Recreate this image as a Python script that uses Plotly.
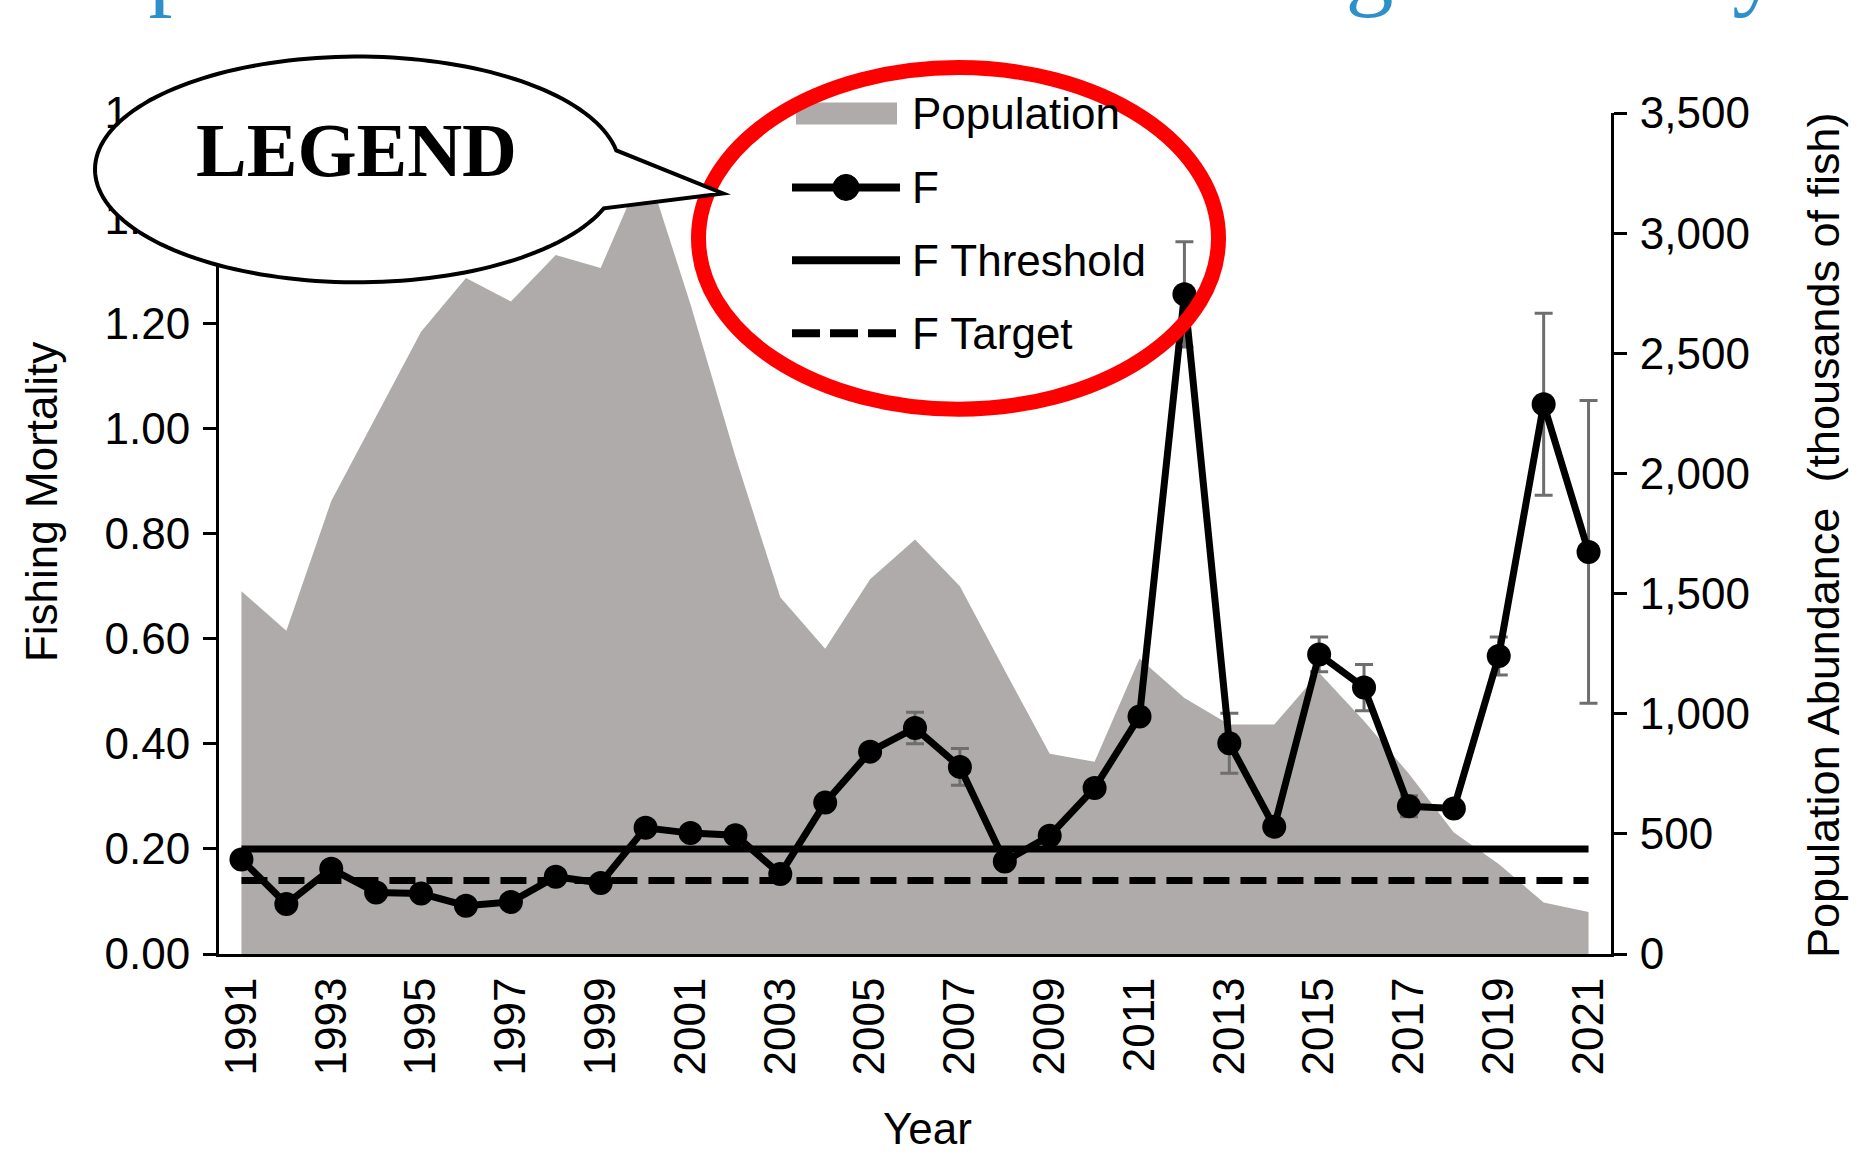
import numpy as np
import plotly.graph_objects as go

# ---------------- data ----------------
years = list(range(1991, 2022))
population = [1510, 1345, 1885, 2240, 2590, 2813, 2716, 2909, 2855, 3287,
              2704, 2070, 1485, 1270, 1560, 1725, 1530, 1180, 833, 800,
              1230, 1065, 955, 955, 1170, 970, 750, 506, 375, 214, 175]
f_values = [0.180, 0.095, 0.162, 0.117, 0.115, 0.092, 0.099, 0.147, 0.135, 0.240,
            0.230, 0.226, 0.152, 0.288, 0.385, 0.430, 0.356, 0.176, 0.225, 0.316,
            0.452, 1.255, 0.401, 0.242, 0.570, 0.507, 0.281, 0.277, 0.567, 1.046,
            0.765]
f_error = [0, 0, 0, 0, 0, 0, 0, 0, 0, 0,
           0, 0, 0, 0, 0.012, 0.030, 0.035, 0, 0, 0,
           0.010, 0.100, 0.057, 0, 0.033, 0.044, 0.020, 0.008, 0.036, 0.173,
           0.288]
f_threshold = 0.20
f_target = 0.14
line_years = [1991, 2021]
year_labels = [str(y) for y in range(1991, 2022, 2)]
f_ticks = [0.0, 0.2, 0.4, 0.6, 0.8, 1.0, 1.2, 1.4, 1.6]
pop_ticks = [0, 500, 1000, 1500, 2000, 2500, 3000, 3500]
legend_labels = ["Population", "F", "F Threshold", "F Target"]

# ---------------- geometry (page pixels) ----------------
W, H = 1857, 1152
L, R = 219, 1611
T, B = 112.5, 954.5
PW, PH = R - L, B - T


def px(x):
    return (x - L) / PW


def py(y):
    return (B - y) / PH


FONT = "Liberation Sans, Arial, sans-serif"
SIZE = 44
BLACK = "#000000"
GREY = "#AEABAA"

fig = go.Figure()

fig.add_trace(go.Scatter(
    x=years, y=population, name="Population", xaxis="x", yaxis="y",
    mode="lines", line=dict(width=0, color=GREY), fill="tozeroy",
    fillcolor=GREY, showlegend=False, hoverinfo="skip"))

fig.add_trace(go.Scatter(
    x=line_years, y=[f_threshold] * len(line_years), name="F Threshold",
    xaxis="x", yaxis="y2", mode="lines",
    line=dict(color=BLACK, width=7), showlegend=False))

fig.add_trace(go.Scatter(
    x=line_years, y=[f_target] * len(line_years), name="F Target",
    xaxis="x", yaxis="y2", mode="lines",
    line=dict(color=BLACK, width=7, dash="26px,11px"), showlegend=False))

fig.add_trace(go.Scatter(
    x=years, y=f_values, name="F", xaxis="x", yaxis="y2",
    mode="lines+markers",
    line=dict(color=BLACK, width=7),
    marker=dict(color=BLACK, size=24),
    error_y=dict(type="data", array=f_error, visible=True,
                 color="#6E6E6E", thickness=3, width=9),
    showlegend=False))

xr = [1990.5, 2021.5]
half_years = [y + 0.5 for y in range(1990, 2022)]
tickfont = dict(family=FONT, size=SIZE, color=BLACK)

fig.update_layout(
    width=W, height=H, autosize=False,
    margin=dict(l=L, r=W - R, t=T, b=H - B, pad=0),
    paper_bgcolor="white", plot_bgcolor="white",
    showlegend=False,
    xaxis=dict(range=xr, tickvals=list(range(1991, 2022, 2)), ticktext=year_labels,
               tickangle=-90, ticks="", showline=True, linecolor=BLACK, linewidth=3,
               showgrid=False, zeroline=False, tickfont=tickfont,
               ticklabelstandoff=3, anchor="y"),
    xaxis2=dict(range=xr, overlaying="x", anchor="y", tickvals=half_years,
                ticks="outside", ticklen=13, tickwidth=3, tickcolor=BLACK,
                showticklabels=False, showline=False, showgrid=False, zeroline=False),
    xaxis3=dict(range=xr, overlaying="x", anchor="y", tickvals=half_years,
                ticks="inside", ticklen=13, tickwidth=3, tickcolor=BLACK,
                showticklabels=False, showline=False, showgrid=False, zeroline=False),
    yaxis=dict(range=[0, 3500], side="right", anchor="x", tickvals=pop_ticks,
               tickformat=",d", ticks="outside", ticklen=13, tickwidth=3,
               tickcolor=BLACK, showline=True, linecolor=BLACK, linewidth=3,
               showgrid=False, zeroline=False, tickfont=tickfont,
               ticklabelstandoff=4),
    yaxis2=dict(range=[0, 1.6], side="left", overlaying="y", anchor="x",
                tickvals=f_ticks, tickformat=".2f", ticks="outside", ticklen=13,
                tickwidth=3, tickcolor=BLACK, showline=True, linecolor=BLACK,
                linewidth=3, showgrid=False, zeroline=False, tickfont=tickfont,
                ticklabelstandoff=4),
    yaxis3=dict(range=[0, 1.6], side="left", overlaying="y", anchor="x",
                tickvals=f_ticks, ticks="inside", ticklen=13, tickwidth=3,
                tickcolor=BLACK, showticklabels=False, showline=False,
                showgrid=False, zeroline=False),
    yaxis4=dict(range=[0, 3500], side="right", overlaying="y", anchor="x",
                tickvals=pop_ticks, ticks="inside", ticklen=13, tickwidth=3,
                tickcolor=BLACK, showticklabels=False, showline=False,
                showgrid=False, zeroline=False),
)

annotations = []
shapes = []

# cropped slide title (only the descenders are visible at the top edge)
annotations.append(dict(
    text="Population Abundance and Fishing Mortality", xref="paper", yref="paper",
    x=px(46), y=py(19), xanchor="left", yanchor="bottom", showarrow=False,
    borderpad=0, font=dict(family="Liberation Serif, Times New Roman, serif",
                           size=96, color="#2E90C8")))

# axis titles
annotations.append(dict(text="Fishing Mortality", xref="paper", yref="paper",
                        x=px(41), y=py(502), xanchor="center", yanchor="middle",
                        textangle=-90, showarrow=False,
                        font=dict(family=FONT, size=SIZE, color=BLACK)))
annotations.append(dict(text="Population Abundance&nbsp; (thousands of fish)",
                        xref="paper", yref="paper",
                        x=px(1824), y=py(535), xanchor="center", yanchor="middle",
                        textangle=-90, showarrow=False,
                        font=dict(family=FONT, size=45, color=BLACK)))
annotations.append(dict(text="Year", xref="paper", yref="paper",
                        x=px(927), y=py(1129), xanchor="center", yanchor="middle",
                        showarrow=False, font=dict(family=FONT, size=SIZE, color=BLACK)))

# legend drawn by hand (long symbols as in the original)
leg_x0, leg_x1, leg_text_x = 792, 900, 910
rows = [113, 187, 260, 333]
shapes.append(dict(type="rect", xref="paper", yref="paper",
                   x0=px(796), x1=px(897), y0=py(124), y1=py(102),
                   fillcolor=GREY, line=dict(width=0), layer="above"))
shapes.append(dict(type="line", xref="paper", yref="paper",
                   x0=px(leg_x0), x1=px(leg_x1), y0=py(rows[1]), y1=py(rows[1]),
                   line=dict(color=BLACK, width=8), layer="above"))
shapes.append(dict(type="circle", xref="paper", yref="paper",
                   x0=px(846 - 13), x1=px(846 + 13), y0=py(rows[1] + 13),
                   y1=py(rows[1] - 13), fillcolor=BLACK,
                   line=dict(color=BLACK, width=1), layer="above"))
shapes.append(dict(type="line", xref="paper", yref="paper",
                   x0=px(leg_x0), x1=px(leg_x1), y0=py(rows[2]), y1=py(rows[2]),
                   line=dict(color=BLACK, width=8), layer="above"))
shapes.append(dict(type="line", xref="paper", yref="paper",
                   x0=px(leg_x0), x1=px(leg_x1), y0=py(rows[3]), y1=py(rows[3]),
                   line=dict(color=BLACK, width=8, dash="28px,10px"), layer="above"))
for lab, ry_ in zip(legend_labels, rows):
    annotations.append(dict(text=lab, xref="paper", yref="paper",
                            x=px(leg_text_x), y=py(ry_), xanchor="left",
                            yanchor="middle", showarrow=False,
                            font=dict(family=FONT, size=SIZE, color=BLACK)))

# red highlight ellipse around the legend
shapes.append(dict(type="circle", xref="paper", yref="paper",
                   x0=px(698.5), x1=px(1218.5), y0=py(409), y1=py(67),
                   line=dict(color="#FF0000", width=15), fillcolor="rgba(0,0,0,0)",
                   layer="above"))

# speech bubble "LEGEND"
cx, cy, rx, ry = 357.5, 169, 262.5, 113
tip = (723, 193)
t_up = np.arcsin((150 - cy) / ry)
t_low = np.arcsin((208 - cy) / ry)
ts = np.linspace(t_low, t_up + 2 * np.pi, 160)
pts = [(cx + rx * np.cos(t), cy + ry * np.sin(t)) for t in ts]
path = "M {:.5f},{:.5f} ".format(px(pts[0][0]), py(pts[0][1]))
for xx, yy in pts[1:]:
    path += "L {:.5f},{:.5f} ".format(px(xx), py(yy))
path += "L {:.5f},{:.5f} Z".format(px(tip[0]), py(tip[1]))
shapes.append(dict(type="path", xref="paper", yref="paper", path=path,
                   fillcolor="white", line=dict(color=BLACK, width=4), layer="above"))
annotations.append(dict(text="<b>LEGEND</b>", xref="paper", yref="paper",
                        x=px(356), y=py(150), xanchor="center", yanchor="middle",
                        showarrow=False,
                        font=dict(family="Liberation Serif, Times New Roman, serif",
                                  size=76, color=BLACK)))

fig.update_layout(shapes=shapes, annotations=annotations)
fig.write_html(
    "out.html",
    config={"displayModeBar": False},
    post_script="document.body.style.margin='0px';"
                "document.body.style.overflow='hidden';")
